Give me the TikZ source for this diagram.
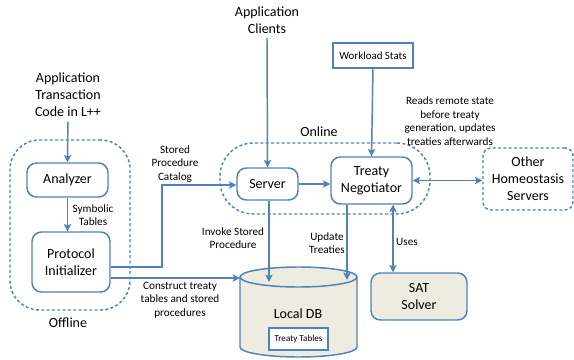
\documentclass[tikz,border=0pt]{standalone}
\usepackage{fontspec}
\setmainfont{Carlito}
\usetikzlibrary{arrows.meta}
\usetikzlibrary{positioning}

\definecolor{boxblue}{RGB}{79,129,189}
\definecolor{dbfill}{RGB}{238,236,225}

\begin{document}
\begin{tikzpicture}[x=.75pt, y=-.75pt,
  box/.style={draw=boxblue, line width=1.1pt, rounded corners=7pt, fill=white, align=center, font=\fontsize{10.5}{12.8}\selectfont, inner sep=2pt},
  group/.style={draw=boxblue, line width=1.1pt, dash pattern=on 2.2pt off 1.8pt},
  big/.style={align=center, font=\fontsize{10.5}{12.8}\selectfont},
  lab/.style={align=center, font=\fontsize{8.4}{10.2}\selectfont, inner sep=1pt},
  conn/.style={draw=boxblue, line width=1.1pt, ->, >={Stealth[length=5.5pt, width=5.5pt, inset=1.2pt]}}]
\useasboundingbox (0,0) rectangle (574,360);

% dashed groups
\node[group, rounded corners=22pt, minimum width=90pt, minimum height=127.5pt] (offline) at (70,225) {};
\node[group, rounded corners=25pt, minimum width=157.5pt, minimum height=53.25pt] (online) at (325,178.5) {};
\node[big] at (68,323) {Offline};
\node[big] at (319,132) {Online};

% boxes
\node[big] (code) at (68,95) {Application\\Transaction\\Code in L++};
\node[box, minimum width=60.75pt, minimum height=25.5pt] (analyzer) at (67.5,180) {Analyzer};
\node[box, minimum width=58.5pt, minimum height=45pt] (protocol) at (71,262) {Protocol\\Initializer};
\node[big] (clients) at (267,20) {Application\\Clients};
\node[box, minimum width=45.75pt, minimum height=24pt] (server) at (267.5,184) {Server};
\node[box, minimum width=60.75pt, minimum height=35.25pt] (treaty) at (371.5,180.5) {Treaty\\Negotiator};
\node[box, rounded corners=0pt, minimum width=60pt, minimum height=18.75pt, font=\fontsize{8.2}{10}\selectfont] (stats) at (373,55.5) {Workload Stats};
\node[box, dash pattern=on 2.2pt off 1.8pt, rounded corners=6pt, minimum width=67.5pt, minimum height=46.5pt] (other) at (528,179) {Other\\Homeostasis\\Servers};
\node[box, fill=dbfill, minimum width=72pt, minimum height=35.25pt] (sat) at (419,296.5) {SAT\\Solver};

% local db
\draw[boxblue, line width=1.1pt, fill=dbfill] (240,277) -- (240,347) arc[start angle=180, end angle=0, x radius=58.5, y radius=10] -- (357,277) arc[start angle=0, end angle=-180, x radius=58.5, y radius=10] -- cycle;
\draw[boxblue, line width=1.1pt] (240,277) arc[start angle=180, end angle=0, x radius=58.5, y radius=10];
\node[big] (db) at (298,314) {Local DB};
\node[box, rounded corners=0pt, minimum width=44.25pt, minimum height=16.5pt, font=\fontsize{6.8}{8}\selectfont] (tables) at (298.5,339) {Treaty Tables};
\coordinate (dbin) at (240,278);
\coordinate (dbL) at (269,282);
\coordinate (dbR) at (347,280);
\coordinate (spc) at (162,185);
\coordinate (pr1) at (0,267);
\coordinate (satlink) at (393,240);

% connectors
\draw[conn] (code) -- (analyzer);
\draw[conn] (analyzer.south) -- (analyzer.south |- protocol.north);
\draw[conn] (protocol.east |- pr1) -| (spc) -- (server.west |- spc);
\draw[conn] (protocol.east |- dbin) -- (dbin);
\draw[conn] (clients.south) -- (server.north);
\draw[conn] (server.east) -- (server.east -| treaty.west);
\draw[conn] (stats.south) -- (treaty.north);
\draw[conn, <->] (treaty.east) -- (treaty.east -| other.west);
\draw[conn] (dbL |- server.south) -- (dbL);
\draw[conn] (dbR |- treaty.south) -- (dbR);
\draw[conn, <->] (satlink |- treaty.south) -- (satlink |- sat.north);

% labels
\node[lab] at (93,215) {Symbolic\\Tables};
\node[lab] at (175,164) {Stored\\Procedure\\Catalog};
\node[lab] at (180,300) {Construct treaty\\tables and stored\\procedures};
\node[lab] at (233,238) {Invoke Stored\\Procedure};
\node[lab] at (327,243) {Update\\Treaties};
\node[lab] at (407,242) {Uses};
\node[lab] at (450,121) {Reads remote state\\before treaty\\generation, updates\\treaties afterwards};
\end{tikzpicture}
\end{document}
